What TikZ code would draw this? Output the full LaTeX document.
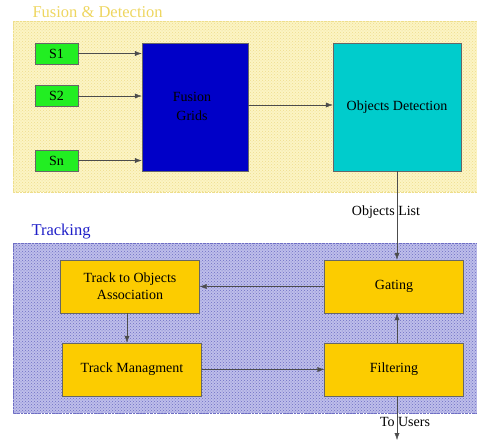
\documentclass[tikz,border=0pt]{standalone}
\usepackage{fontspec}
\setmainfont{Liberation Serif}
\usetikzlibrary{arrows.meta,patterns}

\definecolor{fusbg}{RGB}{252,244,196}
\definecolor{fusdot}{RGB}{238,222,140}
\definecolor{fustitle}{RGB}{238,214,96}
\definecolor{trkbg}{RGB}{190,190,234}
\definecolor{trkdot}{RGB}{110,110,196}
\definecolor{trktitle}{RGB}{30,30,200}
\definecolor{sgreen}{RGB}{34,238,34}
\definecolor{fblue}{RGB}{0,0,200}
\definecolor{dcyan}{RGB}{0,204,204}
\definecolor{tgold}{RGB}{252,204,0}

\tikzset{
  box/.style={draw=black!60,thin,inner sep=2pt,align=center,font=\fontsize{14}{17}\selectfont},
  sensor/.style={box,fill=sgreen,minimum width=43pt,minimum height=21pt},
  task/.style={box,fill=tgold,minimum width=139pt,minimum height=53pt},
  link/.style={-{Latex[length=7pt,width=5pt]},draw=black!70,thin}
}

\begin{document}
\begin{tikzpicture}[x=1pt,y=-1pt]
      \useasboundingbox (0,0) rectangle (477,442);
      % panels
      \fill[preaction={fill=fusbg},pattern=crosshatch dots,pattern color=fusdot] (13,21) rectangle (477,192);
      \draw[fusdot,densely dotted] (13,21) rectangle (477,192);
      \node[anchor=west,text=fustitle,font=\fontsize{16.5}{19}\selectfont] (fustitle) at (29,12) {Fusion \& Detection};
      \fill[preaction={fill=trkbg},pattern=crosshatch dots,pattern color=trkdot] (13,243) rectangle (477,413);
      \draw[trkdot,densely dotted] (13,243) rectangle (477,413);
      \node[anchor=west,text=trktitle,font=\fontsize{16.5}{19}\selectfont] (trktitle) at (28,232) {Tracking};
      % fusion and detection
      \foreach \n / \ya in {1/53.5,2/96,n/160.5} {
        \node[sensor] (s\n) at (56.5,\ya) {S\n};
      }
      \node[box,fill=fblue,minimum width=106pt,minimum height=128pt] (grid) at (195,107) {};
      \node[font=\fontsize{14}{19}\selectfont,align=center,text=black] (gridtxt) at (192,106) {Fusion\\Grids};
      \node[box,fill=dcyan,minimum width=128pt,minimum height=128pt] (detect) at (397,107) {Objects Detection};
      \foreach \n / \ya in {1/53.5,2/96,n/160.5} {
        \draw[link] (s\n.east) -- (s\n.east -| grid.west);
      }
      \draw[link] (grid.east |- 0,105) -- (detect.west |- 0,105);
      % tracking
      \node[task] (assoc) at (130,286.5) {Track to Objects\\Association};
      \node[task] (manag) at (132,369.5) {Track Managment};
      \node[task] (gate) at (394,286.5) {Gating};
      \node[task] (filt) at (394,369.5) {Filtering};
      \coordinate (top) at (397,171);
      \coordinate (users) at (397,440);
      \node[font=\fontsize{14}{17}\selectfont] (objlist) at (386,212) {Objects List};
      \draw[link] (top) -- (top |- gate.north);
      \draw[link] (gate.west) -- (assoc.east);
      \draw[link] (assoc.south -| 127,0) -- (manag.north -| 127,0);
      \draw[link] (manag.east) -- (filt.west);
      \draw[link] (filt.north -| top) -- (gate.south -| top);
      \node[font=\fontsize{14}{17}\selectfont] (tousers) at (405,422) {To Users};
      \draw[link] (filt.south -| top) -- (users);
   \end{tikzpicture}
\end{document}
